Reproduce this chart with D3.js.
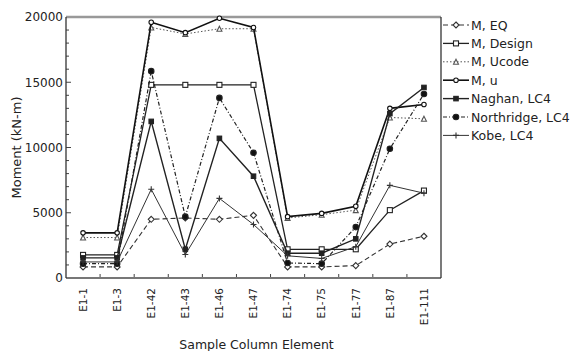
<!DOCTYPE html>
<html>
<head>
<meta charset="utf-8">
<script src="https://cdn.jsdelivr.net/npm/d3@7"></script>
<style>
  body { margin: 0; background: #fff; }
  text { font-family: 'DejaVu Sans', sans-serif; fill: #222; }
</style>
</head>
<body>
<div id="chart"></div>
<script>
const categories = ['E1-1', 'E1-3', 'E1-42', 'E1-43', 'E1-46', 'E1-47', 'E1-74', 'E1-75', 'E1-77', 'E1-87', 'E1-111'];
const yTicks = [0, 5000, 10000, 15000, 20000];

const mEQ = [850, 850, 4500, 4600, 4500, 4800, 850, 850, 950, 2600, 3200];
const mDesign = [1770, 1770, 14800, 14800, 14800, 14800, 2200, 2200, 2200, 5200, 6700];
const mUcode = [3100, 3100, 19200, 18700, 19100, 19100, 4600, 4850, 5200, 12300, 12200];
const mU = [3460, 3460, 19600, 18800, 19900, 19200, 4700, 4950, 5500, 13000, 13300];
const naghan = [1540, 1540, 12000, 2200, 10700, 7800, 1900, 1900, 3000, 12600, 14600];
const northridge = [1100, 1100, 15850, 4700, 13800, 9600, 1150, 1100, 3900, 9900, 14100];
const kobe = [1230, 1230, 6800, 1800, 6100, 4100, 1700, 1500, 2400, 7100, 6500];

const seriesNames = ['M, EQ', 'M, Design', 'M, Ucode', 'M, u', 'Naghan, LC4', 'Northridge, LC4', 'Kobe, LC4'];
const seriesValues = [mEQ, mDesign, mUcode, mU, naghan, northridge, kobe];

// line / marker style per series
const styles = [
  { dash: '5,3', width: 1.1, color: '#333', marker: 'diamond', fill: '#fff', size: 3 },
  { dash: null, width: 1.3, color: '#222', marker: 'square', fill: '#fff', size: 5 },
  { dash: '1.5,2', width: 1, color: '#555', marker: 'triangle', fill: '#fff', size: 5 },
  { dash: null, width: 1.6, color: '#111', marker: 'circle', fill: '#fff', size: 4.5 },
  { dash: null, width: 1.4, color: '#222', marker: 'square', fill: '#222', size: 4.5 },
  { dash: '4,2,1,2', width: 1.2, color: '#222', marker: 'circle', fill: '#111', size: 5.5 },
  { dash: null, width: 1, color: '#333', marker: 'plus', fill: 'none', size: 6 },
];

const width = 573, height = 351;
const m = { l: 66, r: 441, t: 17, b: 278 };

const svg = d3.select('#chart').append('svg')
  .attr('width', width)
  .attr('height', height);

const x = d3.scalePoint().domain(categories).range([m.l, m.r]).padding(0.5);
const y = d3.scaleLinear().domain([0, 20000]).range([m.b, m.t]);

// minor + major y ticks (inside)
svg.append('g')
  .selectAll('line')
  .data(d3.range(0, 20001, 1000))
    .join('line')
    .attr('x1', m.l)
    .attr('x2', (d) => m.l + (d % 5000 === 0 ? 5 : 3))
    .attr('y1', (d) => y(d))
    .attr('y2', (d) => y(d))
    .attr('stroke', '#444')
    .attr('stroke-width', 1);

// y tick labels
svg.append('g')
  .selectAll('text')
  .data(yTicks)
    .join('text')
    .attr('x', m.l - 3)
    .attr('y', (d) => y(d))
    .attr('dy', '0.36em')
    .attr('text-anchor', 'end')
    .attr('font-size', '12px')
    .attr('fill', '#333')
    .text((d) => d);

// x ticks between categories (inside, pointing up)
const step = x.step();
svg.append('g')
  .selectAll('line')
  .data(categories.slice(0, -1))
    .join('line')
    .attr('x1', (d) => x(d) + step / 2)
    .attr('x2', (d) => x(d) + step / 2)
    .attr('y1', m.b)
    .attr('y2', m.b - 4)
    .attr('stroke', '#444')
    .attr('stroke-width', 1);

// x tick labels, rotated
svg.append('g')
  .selectAll('text')
  .data(categories)
    .join('text')
    .attr('transform', (d) => `translate(${x(d)},${m.b + 10}) rotate(-90)`)
    .attr('dy', '0.36em')
    .attr('text-anchor', 'end')
    .attr('font-size', '10.5px')
    .attr('fill', '#333')
    .text((d) => d);

// frame
svg.append('line').attr('x1', m.l).attr('x2', m.r).attr('y1', m.t).attr('y2', m.t)
  .attr('stroke', '#999').attr('stroke-width', 2.5);
svg.append('line').attr('x1', m.l).attr('x2', m.r).attr('y1', m.b).attr('y2', m.b)
  .attr('stroke', '#777').attr('stroke-width', 2);
svg.append('line').attr('x1', m.l).attr('x2', m.l).attr('y1', m.t).attr('y2', m.b)
  .attr('stroke', '#333').attr('stroke-width', 1.3);
svg.append('line').attr('x1', m.r).attr('x2', m.r).attr('y1', m.t).attr('y2', m.b)
  .attr('stroke', '#333').attr('stroke-width', 1.3);

// marker drawing helper
function drawMarker(g, cx, cy, st) {
  const s = st.size;
  let el;
  if (st.marker === 'square') {
    el = g.append('rect').attr('x', cx - s / 2).attr('y', cy - s / 2).attr('width', s).attr('height', s);
  } else if (st.marker === 'circle') {
    el = g.append('circle').attr('cx', cx).attr('cy', cy).attr('r', s / 2);
  } else if (st.marker === 'triangle') {
    el = g.append('path').attr('d', `M${cx},${cy - s / 2}L${cx + s / 2},${cy + s / 2}L${cx - s / 2},${cy + s / 2}Z`);
  } else if (st.marker === 'diamond') {
    el = g.append('path').attr('d', `M${cx},${cy - s}L${cx + s},${cy}L${cx},${cy + s}L${cx - s},${cy}Z`);
  } else {
    el = g.append('path').attr('d', `M${cx - s / 2},${cy}H${cx + s / 2}M${cx},${cy - s / 2}V${cy + s / 2}`);
  }
  el.attr('fill', st.fill).attr('stroke', st.color).attr('stroke-width', 1.1);
}

// series lines + markers
const line = d3.line().x((d, i) => x(categories[i])).y((d) => y(d));
const plot = svg.append('g').attr('class', 'series');
seriesValues.forEach((vals, k) => {
  const st = styles[k];
  plot.append('path')
    .attr('d', line(vals))
    .attr('fill', 'none')
    .attr('stroke', st.color)
    .attr('stroke-width', st.width)
    .attr('stroke-dasharray', st.dash);
  vals.forEach((v, i) => drawMarker(plot, x(categories[i]), y(v), st));
});

// legend
const legend = svg.append('g').attr('class', 'legend');
seriesNames.forEach((name, k) => {
  const st = styles[k];
  const ly = 25 + k * 18.4;
  legend.append('line')
    .attr('x1', 443).attr('x2', 469)
    .attr('y1', ly).attr('y2', ly)
    .attr('stroke', st.color)
    .attr('stroke-width', st.width)
    .attr('stroke-dasharray', st.dash);
  drawMarker(legend, 456, ly, st);
  legend.append('text')
    .attr('x', 471)
    .attr('y', ly)
    .attr('dy', '0.36em')
    .attr('font-size', '12.5px')
    .attr('fill', '#333')
    .text(name);
});

// axis titles
svg.append('text')
  .attr('x', (m.l + m.r) / 2 + 3)
  .attr('y', 349)
  .attr('text-anchor', 'middle')
  .attr('font-size', '12.5px')
  .attr('fill', '#333')
  .text('Sample Column Element');

svg.append('text')
  .attr('transform', `translate(21,${(m.t + m.b) / 2}) rotate(-90)`)
  .attr('text-anchor', 'middle')
  .attr('font-size', '13px')
  .attr('fill', '#333')
  .text('Moment (kN-m)');
</script>
</body>
</html>
